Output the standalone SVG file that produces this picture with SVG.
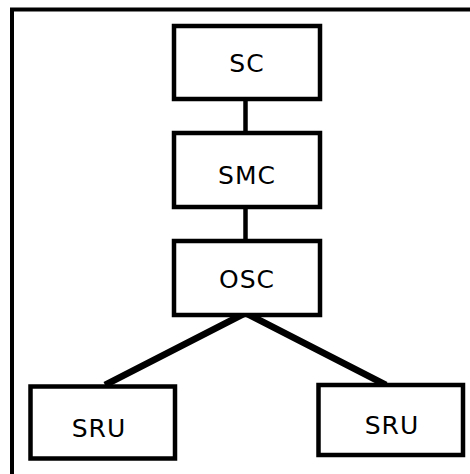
<svg xmlns="http://www.w3.org/2000/svg" width="470" height="474" viewBox="0 0 470 474">
<style>
.box{fill:#fff;stroke:#000;stroke-width:4.5}
.lbl{font-family:"DejaVu Sans","Liberation Sans",sans-serif;font-size:25px;fill:#000;text-anchor:middle;letter-spacing:1px}
.frame{fill:none;stroke:#000;stroke-width:4}
.c1{stroke:#000;stroke-width:4.5;fill:none}
.c2{stroke:#000;stroke-width:6.5;fill:none;stroke-linejoin:round}
</style>
<rect width="470" height="474" fill="#fff"/>
<path class="frame" d="M470 9.5H12V474"/>
<g id="connectors">
<line class="c1" x1="245.5" y1="99" x2="245.5" y2="133"/>
<line class="c1" x1="245.5" y1="207" x2="245.5" y2="241"/>
<polyline class="c2" points="105,385 245.5,313 386,385"/>
</g>
<g id="SC"><rect class="box" x="174" y="26" width="146" height="73"/><text class="lbl" x="247" y="72">SC</text></g>
<g id="SMC"><rect class="box" x="174" y="133" width="146" height="74"/><text class="lbl" x="247" y="184">SMC</text></g>
<g id="OSC"><rect class="box" x="174" y="241" width="146" height="74"/><text class="lbl" x="247" y="288">OSC</text></g>
<g id="SRU1"><rect class="box" x="30.5" y="386.5" width="144.5" height="72"/><text class="lbl" x="99" y="437">SRU</text></g>
<g id="SRU2"><rect class="box" x="318.5" y="385" width="144.5" height="70"/><text class="lbl" x="392" y="434">SRU</text></g>
</svg>
